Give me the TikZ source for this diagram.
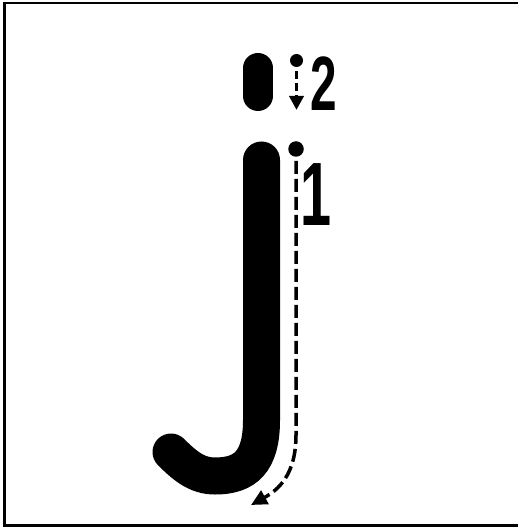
\documentclass[tikz,border=0pt]{standalone}
\usepackage{fontspec}
\setmainfont{Liberation Sans}
\usetikzlibrary{positioning, arrows.meta}

\begin{document}
\begin{tikzpicture}[
		x=1pt, y=-1pt,
		glyph/.style={line width=37pt, line cap=round, black},
		guide/.style={line width=3.5pt, -{Triangle[length=16pt, width=15pt]}},
		startdot/.style={circle, fill=black, inner sep=0pt},
		numlabel/.style={inner sep=0pt, anchor=north}
		]
		\useasboundingbox (0,0) rectangle (518,529);
		
		% --- Frame ---
		\draw[line width=2.5pt] (522,3) -- (4.5,3) -- (4.5,525.5) -- (522,525.5);
		
		% --- Letter j ---
		% dot
		\draw[glyph, line width=30pt] (258,68) -- (258,96);
		% stem and hook
		\draw[glyph] (261.5,160) -- (261.5,420)
			.. controls (261.5,462) and (245,476) .. (215,476)
			.. controls (197,476) and (185,466) .. (171,452);
		
		% --- Stroke 1: stem ---
		\node[startdot, minimum size=15.5pt] (dotA) at (296,149) {};
		\coordinate (endA) at (251,505);
		\draw[guide, dash pattern=on 13pt off 5pt, shorten <=4pt] (dotA) -- (296,435)
			.. controls (296,475) and (278,490) .. (endA);
		\node[numlabel] (lblA) at (316,163) {\fontsize{90}{90}\selectfont\bfseries\scalebox{0.62}[1]{1}};
		
		% --- Stroke 2: dot ---
		\node[startdot, minimum size=13pt] (dotB) at (296.5,60.5) {};
		\coordinate (endB) at (296.5,110);
		\draw[guide, dash pattern=on 8pt off 4pt, shorten <=4pt,
			-{Triangle[length=14pt, width=14pt]}] (dotB) -- (endB);
		\node[numlabel] (lblB) at (324,57) {\fontsize{77}{77}\selectfont\bfseries\scalebox{0.62}[1]{2}};
		
\end{tikzpicture}
\end{document}
